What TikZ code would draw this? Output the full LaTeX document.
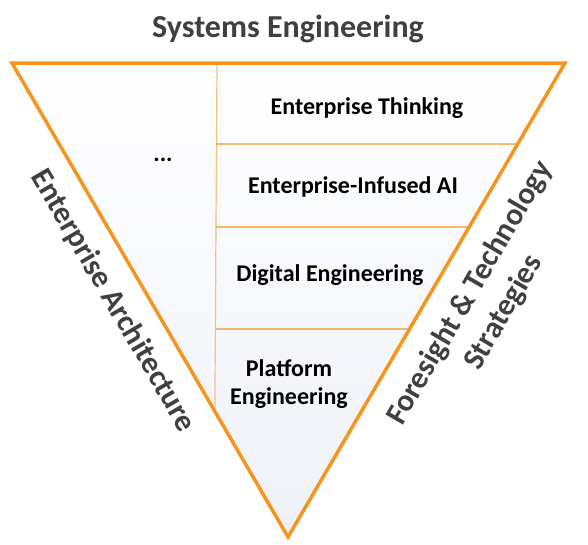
\documentclass[tikz,border=0pt]{standalone}
\usepackage{fontspec}
\setmainfont{Carlito}
\usetikzlibrary{calc}
\definecolor{orng}{RGB}{247,148,30}
\definecolor{lightorng}{RGB}{250,190,130}
\definecolor{darkgray}{RGB}{64,64,64}
\definecolor{fillbot}{RGB}{238,241,248}

\begin{document}
\begin{tikzpicture}[x=1pt,y=-1pt,
    layer/.style={font=\bfseries\fontsize{24}{28}\selectfont, align=center},
    side/.style={font=\bfseries\fontsize{31}{39}\selectfont, text=darkgray, align=center}]
			\useasboundingbox (0,0) rectangle (588,544);
			% corners of the funnel
			\coordinate (tl) at (12,63);
			\coordinate (tr) at (565,63);
			\coordinate (bt) at (288,537);
			\shade[top color=white, bottom color=fillbot] (tl) -- (tr) -- (bt) -- cycle;
			% dividers
			\coordinate (v1) at (217,63);
			\coordinate (v2) at ($(tl)!0.735!(bt)$);
			\draw[lightorng, line width=1.2pt] (v1) -- (v2);
			\coordinate (r1) at ($(tr)!0.171!(bt)$);
			\coordinate (r2) at ($(tr)!0.346!(bt)$);
			\coordinate (r3) at ($(tr)!0.561!(bt)$);
			\draw[orng, line width=1.2pt] (216,144) -- (r1);
			\draw[orng, line width=1.2pt] (216,227) -- (r2);
			\draw[orng, line width=1.2pt] (216,329) -- (r3);
			\draw[orng, line width=3.5pt, line join=miter] (tl) -- (tr) -- (bt) -- cycle;
			% labels
			\node[font=\bfseries\fontsize{32}{36}\selectfont, text=darkgray] (se) at (288,29) {Systems Engineering};
			\node[layer] (et) at (367,108) {Enterprise Thinking};
			\node[layer] (ea) at (353,187) {Enterprise-Infused AI};
			\node[layer] (de) at (330,275) {Digital Engineering};
			\node[layer] (pe) at (289,384) {Platform\\Engineering};
			\node[layer] (dots) at (163,160) {...};
			\node[side, rotate=-59.8] (arch) at (113,301) {Enterprise Architecture};
			\node[side, rotate=59.8] (fts) at (487,303) {Foresight \& Technology\\Strategies};
		\end{tikzpicture}
\end{document}
